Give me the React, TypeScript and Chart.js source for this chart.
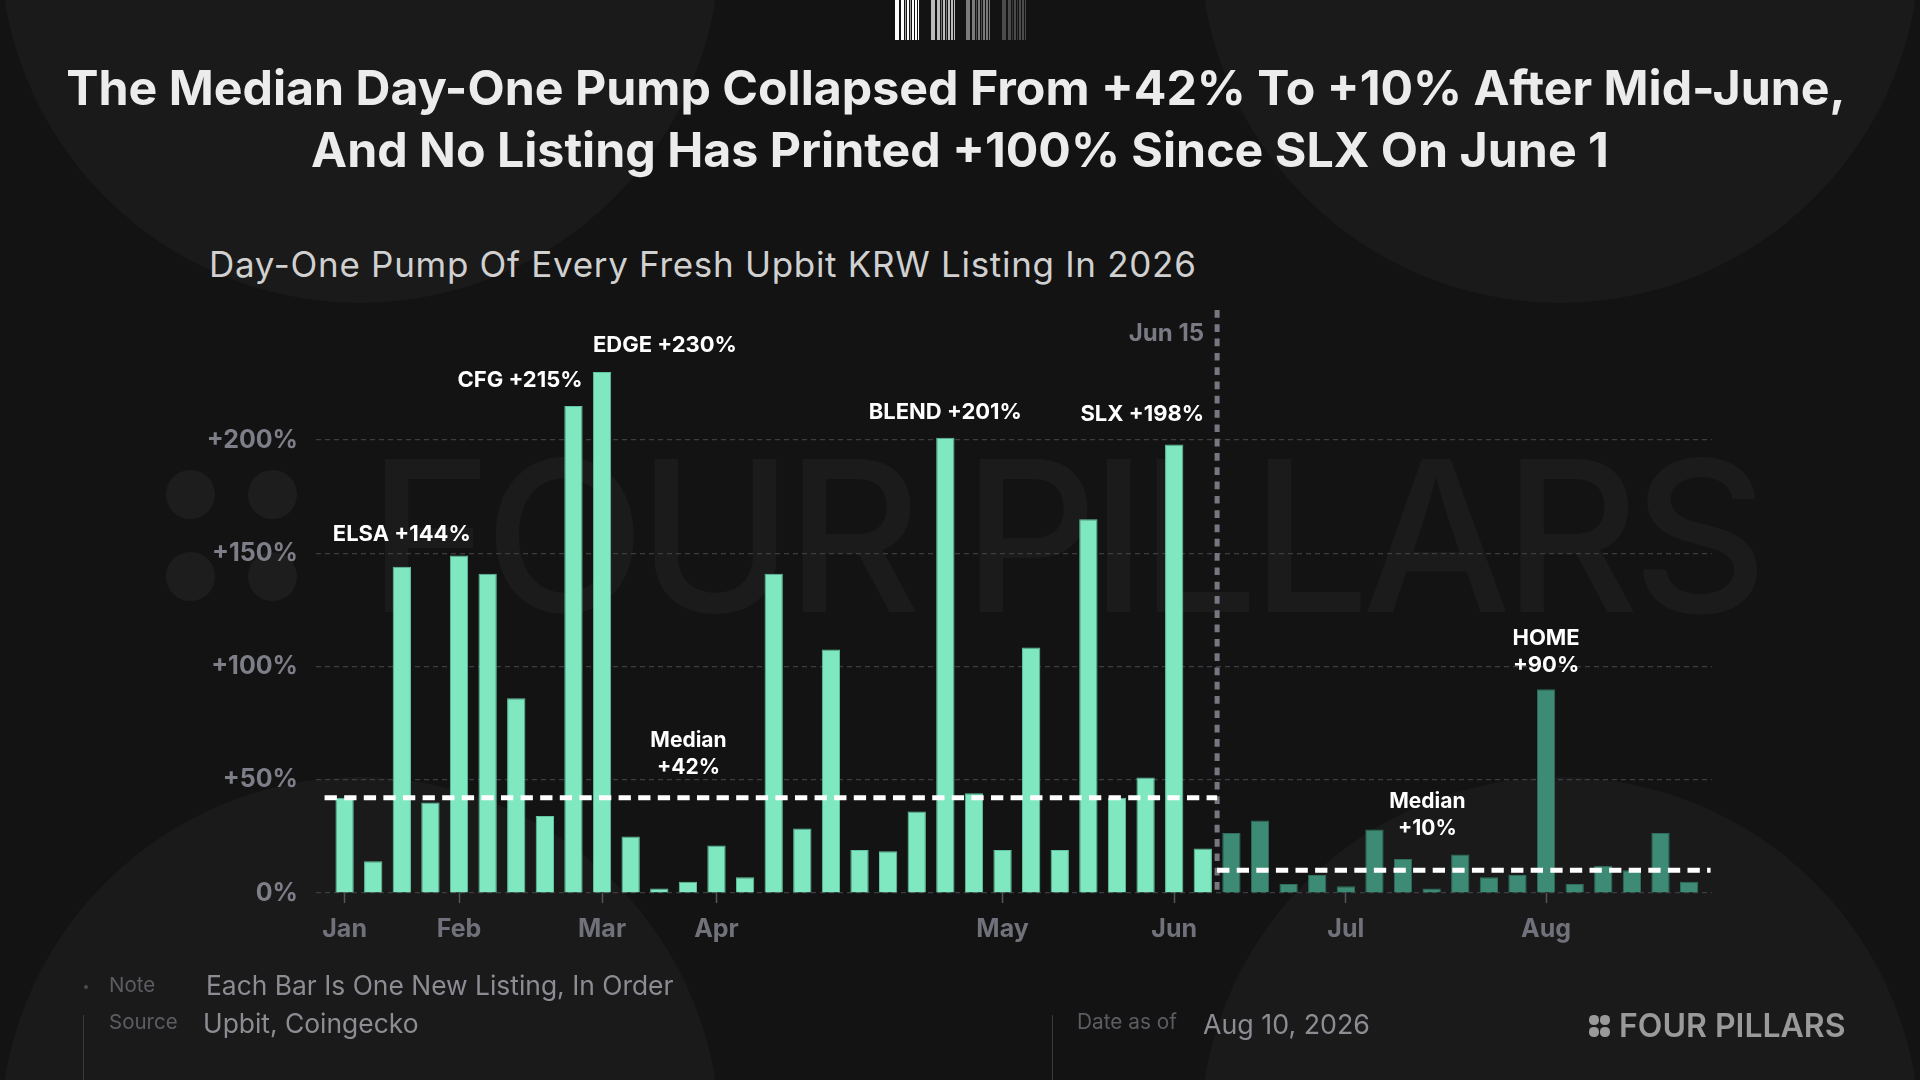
import React, { useEffect, useRef } from "react";
import { Chart, registerables } from "chart.js";

Chart.register(...registerables);

// ---------- data ----------
const LISTING_PUMPS = [
  42, 14, 144, 40, 149, 141, 86, 34, 215, 230, 25, 2, 5, 21, 7, 141, 28.5, 107.5, 19, 18.4,
  36, 201, 44, 19, 108.4, 19, 165, 42, 51, 198, 19.6,
  26.5, 32, 4, 8, 3, 28, 15, 2, 17, 7, 8, 90, 4, 12, 10, 26.5, 5,
];
const PRE_SPLIT_COUNT = 31; // listings before Jun 15
const SPLIT_LABEL = "Jun 15";
const MONTHS = ["Jan", "Feb", "Mar", "Apr", "May", "Jun", "Jul", "Aug"];
const MONTH_START_INDEX = [0, 4, 9, 13, 23, 29, 35, 42];
const Y_TICKS = [0, 50, 100, 150, 200];
const MEDIAN_BEFORE = 42;
const MEDIAN_AFTER = 10;
const CALLOUT_INDEX = [2, 8, 9, 21, 29, 42];
const CALLOUT_NAMES = ["ELSA", "CFG", "EDGE", "BLEND", "SLX", "HOME"];

// ---------- layout / style ----------
const W = 1920;
const H = 1080;
const X_MIN = -1;
const X_MAX = 47.8;
const Y_MAX = 257.4;
const LIGHT = "#7fe8c1";
const LIGHT_EDGE = "#62c4a0";
const DARK = "#3e8b75";
const DARK_EDGE = "#2f6e5d";
const LABEL_SIZE = 22;
const LABEL_FONT = `700 ${LABEL_SIZE}px Inter`;
const MEDIAN_FONT = "700 21px Inter";
const SPLIT_FONT = "700 24px Inter";
const CAP = 0.3635;

// callout placement: align relative to bar, pixel offset of text cap-centre above bar top
const CALLOUT_STYLE = [
  { align: "center", dy: 34, twoLine: false },
  { align: "barRight", dy: 27, twoLine: false },
  { align: "barLeft", dy: 28, twoLine: false },
  { align: "center", dy: 27, twoLine: false },
  { align: "split", dy: 32, twoLine: false },
  { align: "center", dy: 25.6, twoLine: true },
];
const MEDIAN_LABEL_POS = [
  { x: 12.02, dy2: 32, dy1: 59 },
  { x: 37.85, dy2: 43, dy1: 70 },
];
const MEDIAN_EXTENT = [-0.7, 47.75];

const fmt = (v: number) => (v === 0 ? "0%" : `+${Math.round(v)}%`);

const overlayPlugin = {
  id: "overlay",
  afterDatasetsDraw(chart: any) {
    const { ctx, chartArea, scales } = chart;
    const x = scales.x;
    const y = scales.y;
    const splitAt = PRE_SPLIT_COUNT - 0.5;
    const sx = x.getPixelForValue(splitAt);
    ctx.save();

    // Jun 15 divider
    ctx.strokeStyle = "#777781";
    ctx.lineWidth = 5;
    ctx.setLineDash([7.7, 6.6]);
    ctx.beginPath();
    ctx.moveTo(sx, chartArea.top);
    ctx.lineTo(sx, chartArea.bottom);
    ctx.stroke();

    // medians
    ctx.strokeStyle = "#ffffff";
    ctx.lineWidth = 5;
    ctx.setLineDash([12.3, 7.3]);
    const segs = [
      { from: MEDIAN_EXTENT[0], to: splitAt, v: MEDIAN_BEFORE },
      { from: splitAt, to: MEDIAN_EXTENT[1], v: MEDIAN_AFTER },
    ];
    segs.forEach((s) => {
      const py = y.getPixelForValue(s.v);
      ctx.beginPath();
      ctx.moveTo(x.getPixelForValue(s.from), py);
      ctx.lineTo(x.getPixelForValue(s.to), py);
      ctx.stroke();
    });
    ctx.setLineDash([]);

    // Jun 15 label
    ctx.font = SPLIT_FONT;
    ctx.fillStyle = "#7a7a85";
    ctx.textAlign = "right";
    ctx.textBaseline = "alphabetic";
    ctx.fillText(SPLIT_LABEL, sx - 13, chartArea.top + 22 + 24 * CAP);

    // callouts
    const meta = chart.getDatasetMeta(0);
    ctx.font = LABEL_FONT;
    ctx.fillStyle = "#ffffff";
    CALLOUT_INDEX.forEach((idx, k) => {
      const st = CALLOUT_STYLE[k];
      const bar = meta.data[idx];
      const v = LISTING_PUMPS[idx];
      const top = y.getPixelForValue(v);
      const half = bar.width / 2;
      let tx = bar.x;
      ctx.textAlign = "center";
      if (st.align === "barRight") {
        tx = bar.x + half;
        ctx.textAlign = "right";
      } else if (st.align === "barLeft") {
        tx = bar.x - half;
        ctx.textAlign = "left";
      } else if (st.align === "split") {
        tx = sx - 13;
        ctx.textAlign = "right";
      }
      if (st.twoLine) {
        ctx.fillText(fmt(v), tx, top - st.dy + LABEL_SIZE * CAP);
        ctx.fillText(CALLOUT_NAMES[k], tx, top - st.dy - 27 + LABEL_SIZE * CAP);
      } else {
        ctx.fillText(`${CALLOUT_NAMES[k]} ${fmt(v)}`, tx, top - st.dy + LABEL_SIZE * CAP);
      }
    });

    // median labels
    ctx.font = MEDIAN_FONT;
    ctx.textAlign = "center";
    [MEDIAN_BEFORE, MEDIAN_AFTER].forEach((m, k) => {
      const p = MEDIAN_LABEL_POS[k];
      const px = x.getPixelForValue(p.x);
      const py = y.getPixelForValue(m);
      ctx.fillText("Median", px, py - p.dy1 + 21 * CAP);
      ctx.fillText(fmt(m), px, py - p.dy2 + 21 * CAP);
    });
    ctx.restore();
  },
};

const ASC = 0.8636;
function T(props: any) {
  const { x, y, size, weight = 400, color, align = "left", children, ls = 0 } = props;
  const style: any = {
    position: "absolute",
    top: y - ASC * size,
    fontSize: size,
    lineHeight: `${size}px`,
    fontWeight: weight,
    color,
    whiteSpace: "nowrap",
    letterSpacing: ls,
  };
  if (align === "left") style.left = x;
  else if (align === "center") {
    style.left = x;
    style.transform = "translateX(-50%)";
  } else style.right = W - x;
  return <div style={style}>{children}</div>;
}

const BARCODE_X = [895, 931, 966, 1002];
const BARCODE_COLORS = ["#ffffff", "#bcbcbc", "#7b7b7b", "#4b4b4b"];
const BARCODE_PATTERN = [
  [0, 4.3], [5.7, 3.3], [9.6, 0.8], [11.7, 2.7], [15.2, 0.9], [17.3, 2], [20.3, 1.4], [23, 1.1],
];

export default function App() {
  const ref = useRef<HTMLCanvasElement>(null);

  useEffect(() => {
    if (!ref.current) return;
    const chart = new Chart(ref.current, {
      type: "bar",
      data: {
        datasets: [
          {
            data: LISTING_PUMPS.map((v, i) => ({ x: i, y: v })),
            backgroundColor: LISTING_PUMPS.map((_, i) => (i < PRE_SPLIT_COUNT ? LIGHT : DARK)),
            borderColor: LISTING_PUMPS.map((_, i) => (i < PRE_SPLIT_COUNT ? LIGHT_EDGE : DARK_EDGE)),
            borderWidth: 1,
            barPercentage: 0.64,
            categoryPercentage: 1,
          },
        ],
      },
      options: {
        responsive: false,
        animation: false,
        devicePixelRatio: 1,
        layout: { padding: { left: 0, top: 310, right: 208, bottom: 127 } },
        plugins: {
          legend: { display: false },
          tooltip: { enabled: false },
          title: { display: false },
        },
        scales: {
          x: {
            type: "linear",
            min: X_MIN,
            max: X_MAX,
            offset: false,
            afterBuildTicks: (s: any) => {
              s.ticks = MONTH_START_INDEX.map((v) => ({ value: v }));
            },
            afterFit: (s: any) => {
              s.height = 60;
            },
            ticks: {
              autoSkip: false,
              maxRotation: 0,
              padding: 11,
              color: "#71717b",
              font: { family: "Inter", weight: "700", size: 25 },
              callback: (v: any) => {
                const k = MONTH_START_INDEX.indexOf(Number(v));
                return k >= 0 ? MONTHS[k] : "";
              },
            },
            grid: {
              display: true,
              offset: false,
              drawOnChartArea: false,
              drawTicks: true,
              tickLength: 10,
              tickColor: "#55555d",
              tickWidth: 1.5,
            },
            border: { display: false },
          },
          y: {
            min: 0,
            max: Y_MAX,
            afterBuildTicks: (s: any) => {
              s.ticks = Y_TICKS.map((v) => ({ value: v }));
            },
            afterFit: (s: any) => {
              s.width = 316;
            },
            ticks: {
              padding: 18,
              color: "#7e7e88",
              font: { family: "Inter", weight: "700", size: 25 },
              callback: (v: any) => fmt(Number(v)),
            },
            grid: { drawTicks: false, color: "#3c3c42", lineWidth: 1.2 },
            border: { display: false, dash: [5, 4] },
          },
        },
      } as any,
      plugins: [overlayPlugin],
    });
    return () => chart.destroy();
  }, []);

  const circle = (cx: number, cy: number, r: number) => (
    <div
      style={{
        position: "absolute",
        left: cx - r,
        top: cy - r,
        width: 2 * r,
        height: 2 * r,
        borderRadius: "50%",
        background: "#1a1a1a",
      }}
    />
  );
  const dot = (cx: number, cy: number, r: number, c: string) => (
    <div
      style={{
        position: "absolute",
        left: cx - r,
        top: cy - r,
        width: 2 * r,
        height: 2 * r,
        borderRadius: "50%",
        background: c,
      }}
    />
  );

  return (
    <div
      style={{
        position: "absolute",
        left: 0,
        top: 0,
        width: W,
        height: H,
        overflow: "hidden",
        background: "#131313",
        fontFamily: "Inter, 'Noto Sans', sans-serif",
      }}
    >
      {circle(360, -57, 360)}
      {circle(1560, -57, 360)}
      {circle(360, 1137, 360)}
      {circle(1560, 1137, 360)}

      {/* watermark */}
      {dot(190.7, 494.7, 24.3, "#1d1d1d")}
      {dot(272.7, 494.7, 24.3, "#1d1d1d")}
      {dot(190.7, 576.3, 24.3, "#1d1d1d")}
      {dot(272.7, 576.3, 24.3, "#1d1d1d")}
      <T x={368} y={612} size={210} weight={500} color="rgba(255,255,255,0.035)" ls={-7.5}>
        FOUR PILLARS
      </T>

      {/* barcode */}
      {BARCODE_X.map((gx, g) =>
        BARCODE_PATTERN.map(([o, w], j) => (
          <div
            key={`${g}-${j}`}
            style={{
              position: "absolute",
              left: gx + o,
              top: 0,
              width: w,
              height: 40,
              background: BARCODE_COLORS[g],
              opacity: w < 1 ? 0.6 : 1,
            }}
          />
        ))
      )}

      {/* titles */}
      <T x={956} y={106} size={48.3} weight={700} color="#ececec" align="center">
        The Median Day-One Pump Collapsed From +42% To +10% After Mid-June,
      </T>
      <T x={960} y={168} size={48.3} weight={700} color="#ececec" align="center">
        And No Listing Has Printed +100% Since SLX On June 1
      </T>
      <T x={209} y={277} size={35} weight={400} color="#d0d0d0" ls={0.7}>
        Day-One Pump Of Every Fresh Upbit KRW Listing In 2026
      </T>

      <canvas
        ref={ref}
        width={W}
        height={H}
        style={{ position: "absolute", left: 0, top: 0, width: W, height: H }}
      />

      {/* footer */}
      {dot(86, 987, 2, "#4a4a50")}
      <T x={109} y={993} size={20.5} color="#5c5c63">Note</T>
      <T x={206} y={995} size={26.4} color="#8c8c93">Each Bar Is One New Listing, In Order</T>
      <T x={109} y={1030} size={20.5} color="#5c5c63">Source</T>
      <T x={203} y={1033} size={26.4} color="#8c8c93">Upbit, Coingecko</T>
      <div style={{ position: "absolute", left: 83, top: 1015, width: 1, height: 65, background: "#3a3a3e" }} />
      <div style={{ position: "absolute", left: 1052, top: 1015, width: 1, height: 65, background: "#3a3a3e" }} />
      <T x={1077} y={1030} size={20.8} color="#5c5c63">Date as of</T>
      <T x={1203} y={1034} size={26.8} color="#8c8c93">Aug 10, 2026</T>
      {dot(1594, 1020, 4.6, "#9a9a9a")}
      {dot(1605, 1020, 4.6, "#9a9a9a")}
      {dot(1594, 1032, 4.6, "#9a9a9a")}
      {dot(1605, 1032, 4.6, "#9a9a9a")}
      <T x={1619} y={1038} size={32} weight={600} color="#9a9a9a">FOUR PILLARS</T>
    </div>
  );
}
